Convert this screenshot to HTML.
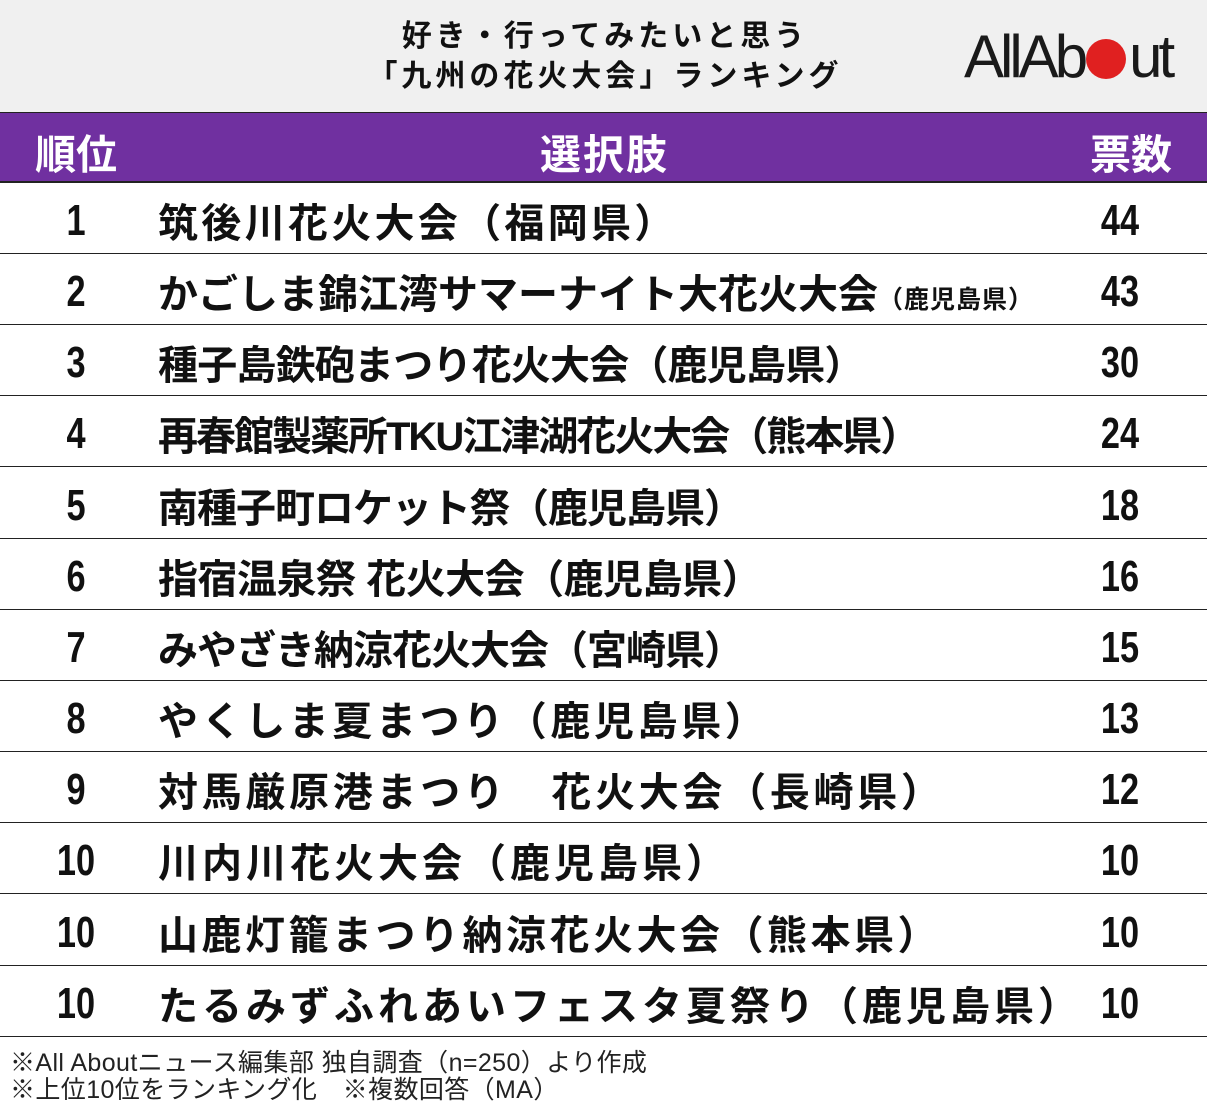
<!DOCTYPE html>
<html><head><meta charset="utf-8"><style>
body{margin:0;width:1207px;height:1110px;background:#fff;font-family:"Liberation Sans","Noto Sans CJK JP",sans-serif;position:relative;overflow:hidden}
.hdr{position:absolute;left:0;top:0;width:1207px;height:112px;background:#f0f0f0}
.title{position:absolute;left:300px;width:610px;top:17px;text-align:center;font-weight:bold;font-size:30px;line-height:40px;letter-spacing:4px;color:#111}
.logo{position:absolute;left:964px;top:22px;font-size:60px;letter-spacing:-4px;color:#1a1a1a;font-family:"Liberation Sans",sans-serif}
.dot{display:inline-block;width:40px;height:40px;border-radius:50%;background:#e02020;vertical-align:-2px;margin:0 3px 0 2px}
.bar{position:absolute;left:0;top:112px;width:1207px;height:71px;background:#7030a0;border-top:1px solid #222;border-bottom:2px solid #222;box-sizing:border-box;color:#fff;font-weight:bold;font-size:41px}
.bar span{position:absolute;top:8px}
.row{position:absolute;left:0;width:1207px;height:71px;border-bottom:1.5px solid #222;box-sizing:border-box;font-weight:bold;color:#111}
.rk{position:absolute;left:36px;width:80px;text-align:center;top:13px;font-size:44px;font-weight:bold;font-family:"Liberation Sans",sans-serif;transform:scaleX(0.78)}
.nm{position:absolute;left:158px;top:8px;font-size:40px;white-space:nowrap}
.nm small{font-size:25px;letter-spacing:1px}
.vt{position:absolute;left:1080px;width:80px;text-align:center;top:13px;font-size:44px;font-weight:bold;font-family:"Liberation Sans",sans-serif;transform:scaleX(0.78)}
.foot{position:absolute;left:10px;top:1050px;font-size:25px;line-height:27px;color:#222;letter-spacing:0.4px}
</style></head><body>
<div class="hdr"></div>
<div class="title">好き・行ってみたいと思う<br>「九州の花火大会」ランキング</div>
<div class="logo">AllAb<span class="dot"></span>ut</div>
<div class="bar"><span style="left:35px">順位</span><span style="left:540px;letter-spacing:2px">選択肢</span><span style="left:1090px">票数</span></div>

<div class="row" style="top:183px"><div class="rk">1</div><div class="nm" style="letter-spacing:3.3px">筑後川花火大会（福岡県）</div><div class="vt">44</div></div>
<div class="row" style="top:254px"><div class="rk">2</div><div class="nm" style="letter-spacing:0px">かごしま錦江湾サマーナイト大花火大会<small>（鹿児島県）</small></div><div class="vt">43</div></div>
<div class="row" style="top:325px"><div class="rk">3</div><div class="nm" style="letter-spacing:-0.8px">種子島鉄砲まつり花火大会（鹿児島県）</div><div class="vt">30</div></div>
<div class="row" style="top:396px"><div class="rk">4</div><div class="nm" style="letter-spacing:-2px">再春館製薬所TKU江津湖花火大会（熊本県）</div><div class="vt">24</div></div>
<div class="row" style="top:468px"><div class="rk">5</div><div class="nm" style="letter-spacing:-1px">南種子町ロケット祭（鹿児島県）</div><div class="vt">18</div></div>
<div class="row" style="top:539px"><div class="rk">6</div><div class="nm" style="letter-spacing:-0.5px">指宿温泉祭 花火大会（鹿児島県）</div><div class="vt">16</div></div>
<div class="row" style="top:610px"><div class="rk">7</div><div class="nm" style="letter-spacing:-1px">みやざき納涼花火大会（宮崎県）</div><div class="vt">15</div></div>
<div class="row" style="top:681px"><div class="rk">8</div><div class="nm" style="letter-spacing:3.6px">やくしま夏まつり（鹿児島県）</div><div class="vt">13</div></div>
<div class="row" style="top:752px"><div class="rk">9</div><div class="nm" style="letter-spacing:3.7px">対馬厳原港まつり　花火大会（長崎県）</div><div class="vt">12</div></div>
<div class="row" style="top:823px"><div class="rk">10</div><div class="nm" style="letter-spacing:4px">川内川花火大会（鹿児島県）</div><div class="vt">10</div></div>
<div class="row" style="top:895px"><div class="rk">10</div><div class="nm" style="letter-spacing:3.5px">山鹿灯籠まつり納涼花火大会（熊本県）</div><div class="vt">10</div></div>
<div class="row" style="top:966px"><div class="rk">10</div><div class="nm" style="letter-spacing:4px">たるみずふれあいフェスタ夏祭り（鹿児島県）</div><div class="vt">10</div></div>

<div class="foot">※All Aboutニュース編集部 独自調査（n=250）より作成<br>※上位10位をランキング化　※複数回答（MA）</div>
</body></html>
